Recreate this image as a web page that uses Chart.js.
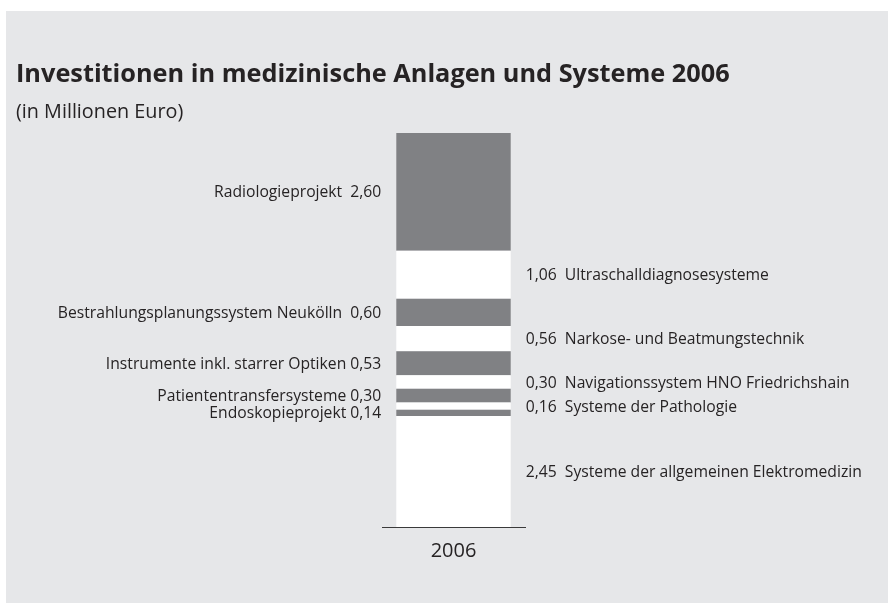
<!DOCTYPE html>
<html>
<head>
<meta charset="utf-8">
<script src="https://cdn.jsdelivr.net/npm/chart.js@4/dist/chart.umd.min.js"></script>
<style>
  html, body { margin: 0; padding: 0; background: #ffffff; }
  canvas { display: block; }
</style>
</head>
<body>
<canvas id="c" width="888" height="603"></canvas>
<script>
// ---- Data ----
const categories = ['2006'];
const itemNames = [
  'Systeme der allgemeinen Elektromedizin',
  'Endoskopieprojekt',
  'Systeme der Pathologie',
  'Patiententransfersysteme',
  'Navigationssystem HNO Friedrichshain',
  'Instrumente inkl. starrer Optiken',
  'Narkose- und Beatmungstechnik',
  'Bestrahlungsplanungssystem Neukölln',
  'Ultraschalldiagnosesysteme',
  'Radiologieprojekt'
];
const itemValues = [2.45, 0.14, 0.16, 0.30, 0.30, 0.53, 0.56, 0.60, 1.06, 2.60];
const itemSides = ['right', 'left', 'right', 'left', 'right', 'left', 'right', 'left', 'right', 'left'];
const labelSeparators = ['  ', ' ', '  ', ' ', '  ', ' ', '  ', '  ', '  ', '  '];
const titleText = 'Investitionen in medizinische Anlagen und Systeme 2006';
const subtitleText = '(in Millionen Euro)';

// ---- Styles ----
const GREY = '#808184';
const WHITE = '#ffffff';
const PANEL = '#e6e7e9';
const TEXT = '#262324';
const FONT = '"Open Sans", "Noto Sans", sans-serif';
const LABEL_SIZE = 15.7;

const fmt = v => v.toFixed(2).replace('.', ',');
const total = itemValues.reduce((a, b) => a + b, 0);

const datasets = itemNames.map((name, i) => ({
  label: name,
  data: [itemValues[i]],
  backgroundColor: itemSides[i] === 'left' ? GREY : WHITE,
  borderWidth: 0,
  categoryPercentage: 1.0,
  barPercentage: 0.8
}));

const decorPlugin = {
  id: 'decor',
  beforeDraw(chart) {
    const ctx = chart.ctx;
    ctx.save();
    ctx.fillStyle = '#ffffff';
    ctx.fillRect(0, 0, chart.width, chart.height);
    ctx.fillStyle = PANEL;
    ctx.fillRect(6, 11, chart.width - 6, chart.height - 11);
    ctx.fillStyle = TEXT;
    ctx.textAlign = 'left';
    ctx.textBaseline = 'alphabetic';
    ctx.font = 'bold 25.3px ' + FONT;
    ctx.fillText(titleText, 16, 82);
    ctx.font = '19.8px ' + FONT;
    ctx.fillText(subtitleText, 16, 118);
    ctx.restore();
  },
  afterDatasetsDraw(chart) {
    const ctx = chart.ctx;
    ctx.save();
    ctx.font = LABEL_SIZE + 'px ' + FONT;
    ctx.fillStyle = TEXT;
    ctx.textBaseline = 'alphabetic';
    const cap = LABEL_SIZE * 0.714;
    itemNames.forEach((name, i) => {
      const bar = chart.getDatasetMeta(i).data[0];
      const cy = (bar.y + bar.base) / 2;
      const half = bar.width / 2;
      const sep = labelSeparators[i];
      if (itemSides[i] === 'left') {
        ctx.textAlign = 'right';
        ctx.fillText(name + sep + fmt(itemValues[i]), bar.x - half - 15, cy + cap / 2);
      } else {
        ctx.textAlign = 'left';
        ctx.fillText(fmt(itemValues[i]) + sep + name, bar.x + half + 15, cy + cap / 2);
      }
    });
    ctx.restore();
  }
};

new Chart(document.getElementById('c'), {
  type: 'bar',
  data: { labels: categories, datasets },
  options: {
    responsive: false,
    animation: false,
    devicePixelRatio: 1,
    layout: { padding: { left: 382, right: 363, top: 133, bottom: 0 } },
    plugins: {
      legend: { display: false },
      tooltip: { enabled: false },
      title: { display: false }
    },
    scales: {
      x: {
        stacked: true,
        grid: { display: false, drawTicks: false },
        border: { display: true, color: '#3a3a3a', width: 1 },
        ticks: { color: TEXT, font: { family: FONT, size: 20 }, padding: 12 },
        afterFit(scale) { scale.height = 76; }
      },
      y: {
        stacked: true,
        display: false,
        min: 0,
        max: total
      }
    }
  },
  plugins: [decorPlugin]
});
</script>
</body>
</html>
